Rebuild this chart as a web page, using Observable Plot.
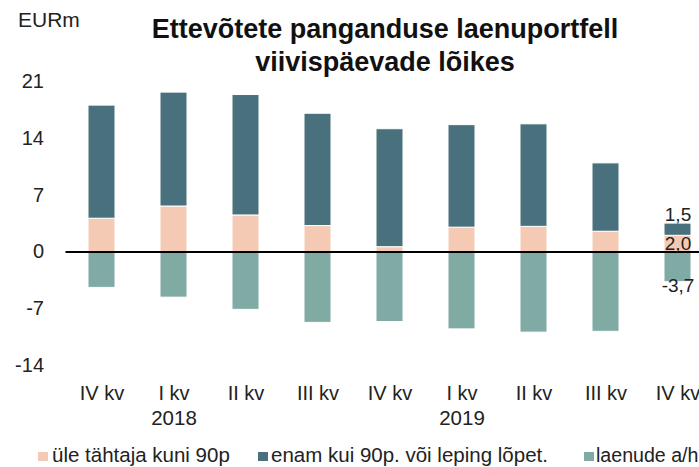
<!DOCTYPE html>
<html>
<head>
<meta charset="utf-8">
<script src="https://cdn.jsdelivr.net/npm/d3@7"></script>
<script src="https://cdn.jsdelivr.net/npm/@observablehq/plot@0.6"></script>
<style>
  body { margin: 0; background: #fff; }
  #wrap { position: relative; width: 699px; height: 467px; overflow: hidden; font-family: "Liberation Sans", Arial, sans-serif; color: #222; }
  #title { position: absolute; left: 135px; width: 500px; top: 12.7px; text-align: center; font-size: 27px; font-weight: bold; line-height: 33px; color: #111; white-space: nowrap; }
  #unit { position: absolute; left: 18px; top: 9px; font-size: 21px; line-height: 21px; color: #222; }
  #chart { position: absolute; left: 0; top: 0; width: 720px; }
  #chart svg { max-width: none !important; }
  .lg { position: absolute; top: 444.6px; font-size: 20.5px; line-height: 20.5px; white-space: nowrap; color: #222; }
  .sw { position: absolute; top: 452px; width: 10px; height: 9px; }
</style>
</head>
<body>
<div id="wrap">
  <div id="chart"></div>
  <div id="unit">EURm</div>
  <div id="title">Ettevõtete panganduse laenuportfell<br>viivispäevade lõikes</div>
  <div id="legend"></div>
</div>
<script>
const keys = ["2017Q4","2018Q1","2018Q2","2018Q3","2018Q4","2019Q1","2019Q2","2019Q3","2019Q4"];
const quarterLabels = ["IV kv","I kv","II kv","III kv","IV kv","I kv","II kv","III kv","IV kv"];
const years = [{key: "2018Q1", label: "2018"}, {key: "2019Q1", label: "2019"}];
const seriesNames = ["üle tähtaja kuni 90p", "enam kui 90p. või leping lõpet.", "laenude a/h"];
const seriesColors = ["#f4cab4", "#48717d", "#80aaa4"];
const overdue90 = [4.1, 5.6, 4.5, 3.2, 0.6, 3.0, 3.1, 2.5, 2.0];
const over90 = [13.9, 14.0, 14.8, 13.8, 14.5, 12.6, 12.6, 8.4, 1.5];
const impairments = [-4.4, -5.6, -7.1, -8.7, -8.6, -9.5, -9.9, -9.8, -3.7];
const yTicks = [-14, -7, 0, 7, 14, 21];
const labelledIndex = 8;

const rows = [];
keys.forEach((k, i) => {
  rows.push({key: k, s: seriesNames[0], v: overdue90[i]});
  rows.push({key: k, s: seriesNames[1], v: over90[i]});
  rows.push({key: k, s: seriesNames[2], v: impairments[i]});
});
const fmt = v => d3.format(".1f")(v).replace("−", "-").replace(".", ",");
const li = labelledIndex;
const labels = [
  {key: keys[li], y: overdue90[li] + over90[li], t: fmt(over90[li]), dy: -9},
  {key: keys[li], y: overdue90[li] / 2, t: fmt(overdue90[li]), dy: 0},
  {key: keys[li], y: impairments[li], t: fmt(impairments[li]), dy: 4}
];

const chart = Plot.plot({
  width: 720,
  height: 430,
  marginTop: 80.7,
  marginBottom: 64.5,
  marginLeft: 65.5,
  marginRight: 6.5,
  style: {fontFamily: "'Liberation Sans', Arial, sans-serif", fontSize: "20px", color: "#222", background: "transparent", maxWidth: "none"},
  x: {domain: keys, paddingInner: 0.625, paddingOuter: 0.3125, tickFormat: d => quarterLabels[keys.indexOf(d)], tickSize: 0, tickPadding: 19.5, label: null},
  y: {domain: [-14, 21], ticks: yTicks, tickSize: 0, tickPadding: 22, label: null, tickFormat: d => String(d)},
  color: {domain: seriesNames, range: seriesColors},
  marks: [
    Plot.barY(rows, {x: "key", y: "v", fill: "s", order: seriesNames, stroke: "white", strokeWidth: 1}),
    Plot.ruleY([0], {stroke: "#000", strokeWidth: 2}),
    Plot.text(years, {x: "key", text: "label", frameAnchor: "bottom", lineAnchor: "top", dy: 44, fill: "#222", fontSize: 20.5}),
    Plot.text(labels.slice(0, 1), {x: "key", y: "y", text: "t", dy: labels[0].dy, fill: "#222", fontSize: 19}),
    Plot.text(labels.slice(1, 2), {x: "key", y: "y", text: "t", dy: labels[1].dy, fill: "#222", fontSize: 19}),
    Plot.text(labels.slice(2, 3), {x: "key", y: "y", text: "t", dy: labels[2].dy, fill: "#222", fontSize: 19})
  ]
});
chart.style.maxWidth = "none";
document.getElementById("chart").append(chart);

const legendPos = [{sx: 38, tx: 52, fs: 20.5}, {sx: 258, tx: 271, fs: 20.5}, {sx: 584, tx: 596, fs: 19.6}];
const lg = document.getElementById("legend");
seriesNames.forEach((n, i) => {
  const s = document.createElement("div");
  s.className = "sw";
  s.style.left = legendPos[i].sx + "px";
  s.style.background = seriesColors[i];
  lg.append(s);
  const d = document.createElement("div");
  d.className = "lg";
  d.style.left = legendPos[i].tx + "px";
  d.style.fontSize = legendPos[i].fs + "px";
  d.textContent = n;
  lg.append(d);
});
</script>
</body>
</html>
